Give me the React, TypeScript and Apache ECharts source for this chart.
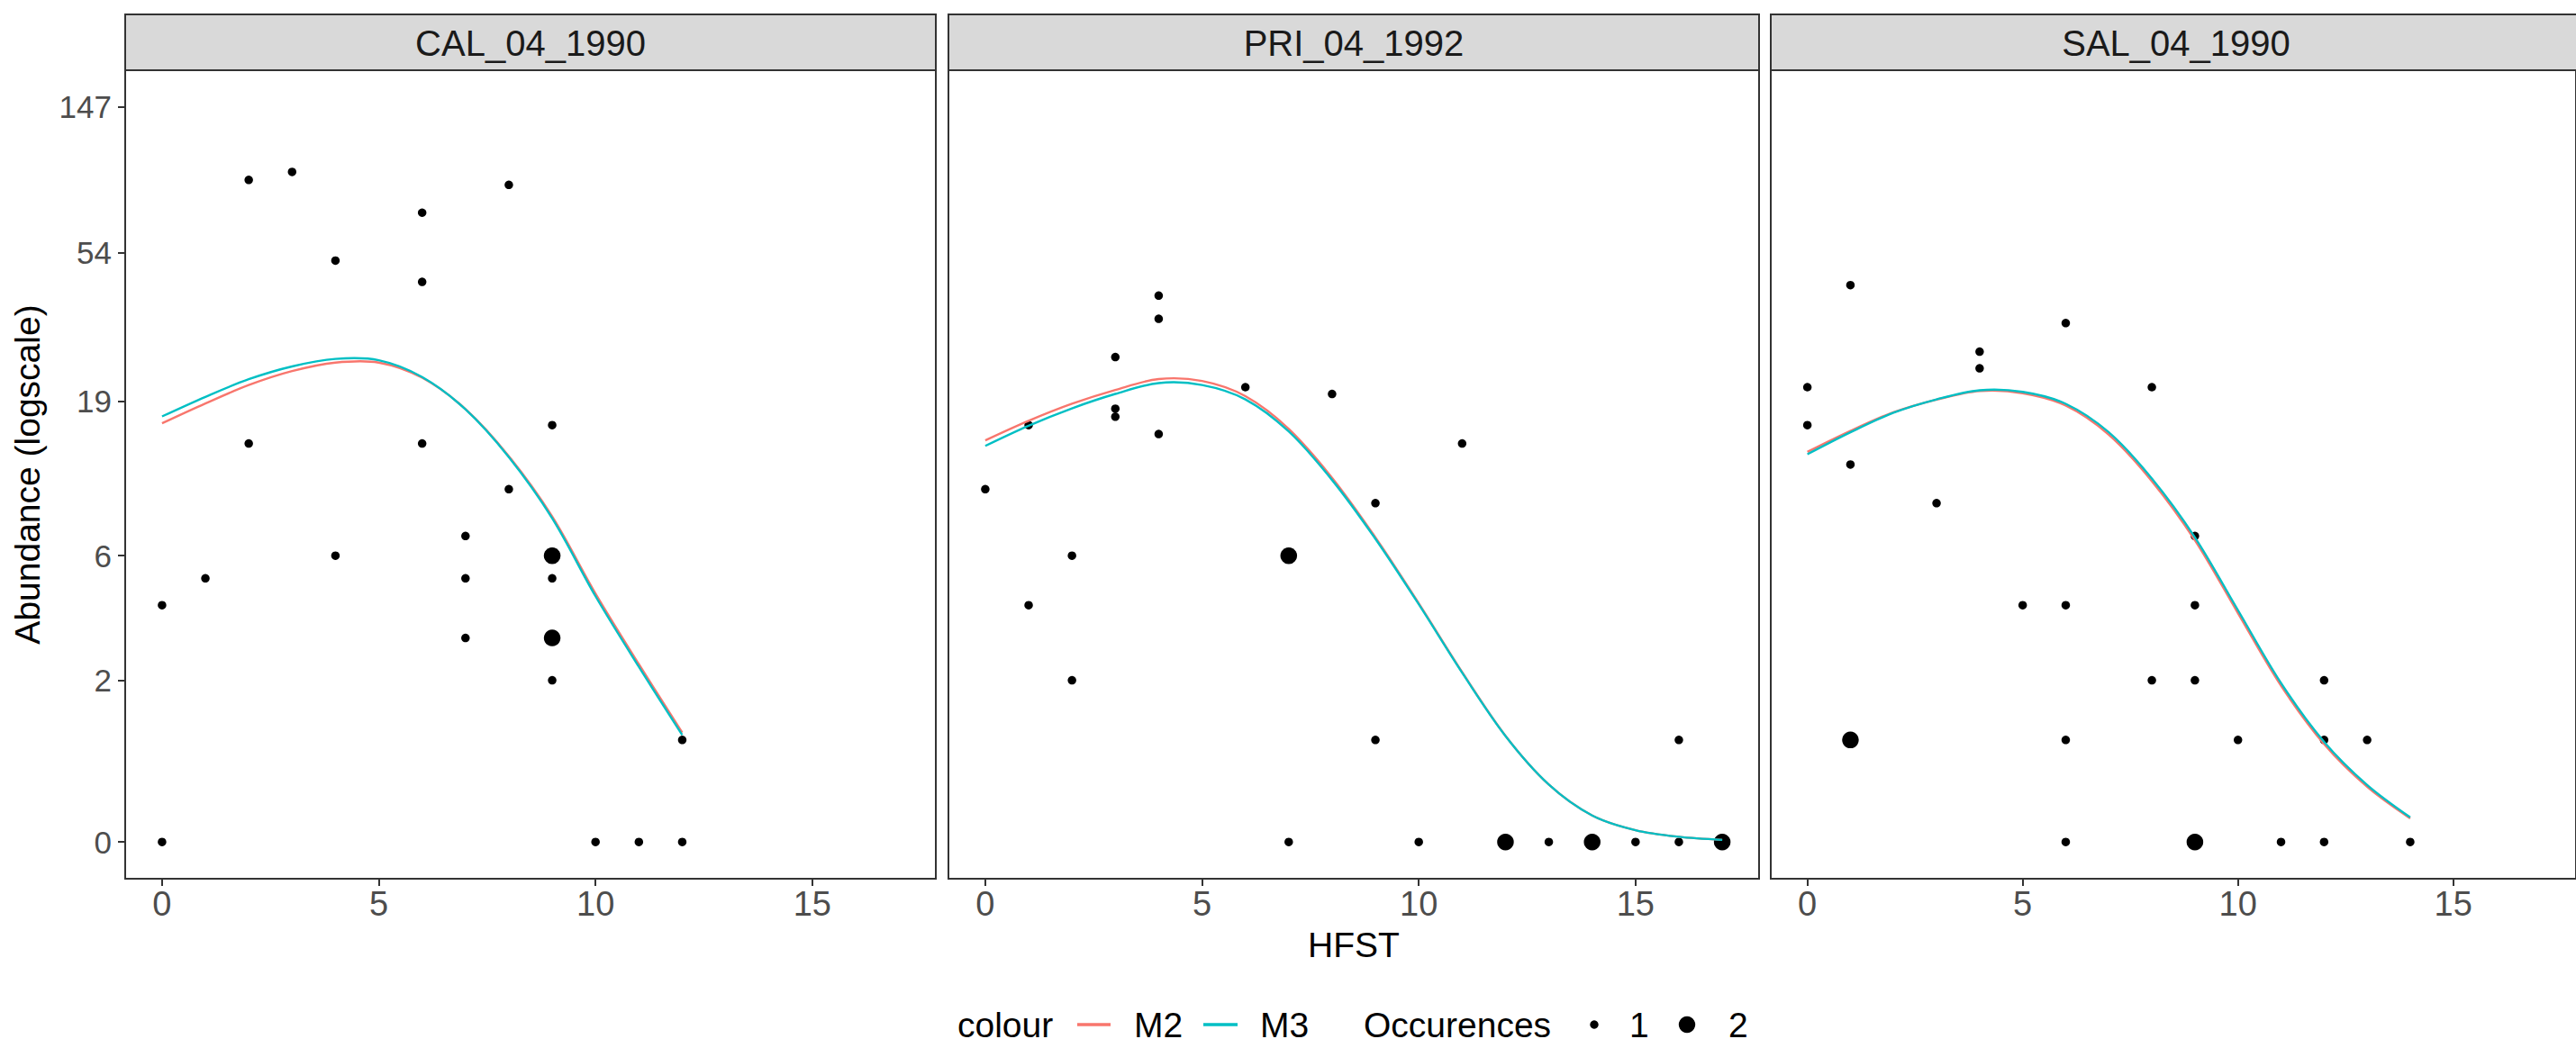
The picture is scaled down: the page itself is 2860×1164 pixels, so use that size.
import React, { useEffect, useRef } from "react";
import * as echarts from "echarts";

// ---------- data ----------
const facets = ["CAL_04_1990", "PRI_04_1992", "SAL_04_1990"];
const yTickValues = [0, 2, 6, 19, 54, 147]; // abundance, plotted on log(1 + y)
const xTickValues = [0, 5, 10, 15];

// observed points: HFST, abundance, occurrences
const calX = [0, 0, 1, 2, 2, 3, 4, 4, 6, 6, 6, 7, 7, 7, 8, 8, 9, 9, 9, 9, 9, 10, 11, 12, 12];
const calAbund = [4, 0, 5, 89, 14, 94, 51, 6, 71, 44, 14, 7, 5, 3, 86, 10, 16, 6, 5, 3, 2, 0, 0, 1, 0];
const calOcc = [1, 1, 1, 1, 1, 1, 1, 1, 1, 1, 1, 1, 1, 1, 1, 1, 1, 2, 1, 2, 1, 1, 1, 1, 1];

const priX = [0, 1, 1, 2, 2, 3, 3, 3, 4, 4, 4, 6, 7, 7, 8, 9, 9, 10, 11, 12, 13, 14, 15, 16, 16, 17];
const priAbund = [10, 16, 4, 6, 2, 26, 18, 17, 40, 34, 15, 21, 6, 0, 20, 9, 1, 0, 14, 0, 0, 0, 0, 1, 0, 0];
const priOcc = [1, 1, 1, 1, 1, 1, 1, 1, 1, 1, 1, 1, 2, 1, 1, 1, 1, 1, 1, 2, 1, 2, 1, 1, 1, 2];

const salX = [0, 0, 1, 1, 1, 3, 4, 4, 5, 6, 6, 6, 6, 8, 8, 9, 9, 9, 9, 10, 11, 12, 12, 12, 13, 14];
const salAbund = [21, 16, 43, 12, 1, 9, 27, 24, 4, 33, 4, 1, 0, 21, 2, 7, 4, 2, 0, 1, 0, 2, 1, 0, 1, 0];
const salOcc = [1, 1, 1, 1, 2, 1, 1, 1, 1, 1, 1, 1, 1, 1, 1, 1, 1, 1, 2, 1, 1, 1, 1, 1, 1, 1];

// fitted curves, on the log(1 + abundance) scale, at each HFST value
const calCurveX = [0, 1, 2, 3, 4, 5, 6, 7, 8, 9, 10, 11, 12];
const calM2 = [2.845, 2.98, 3.105, 3.2, 3.258, 3.258, 3.155, 2.942, 2.622, 2.212, 1.688, 1.208, 0.743];
const calM3 = [2.892, 3.025, 3.145, 3.232, 3.283, 3.274, 3.16, 2.94, 2.615, 2.2, 1.67, 1.19, 0.727];

const priCurveX = [0, 1, 2, 3, 4, 5, 6, 7, 8, 9, 10, 11, 12, 13, 14, 15, 16, 17];
const priM2 = [2.729, 2.862, 2.978, 3.072, 3.146, 3.133, 3.03, 2.808, 2.475, 2.07, 1.622, 1.155, 0.722, 0.39, 0.18, 0.08, 0.035, 0.014];
const priM3 = [2.692, 2.829, 2.947, 3.045, 3.119, 3.106, 3.008, 2.79, 2.46, 2.06, 1.615, 1.15, 0.72, 0.39, 0.18, 0.08, 0.035, 0.014];

const salCurveX = [0, 1, 2, 3, 4, 5, 6, 7, 8, 9, 10, 11, 12, 13, 14];
const salM2 = [2.651, 2.794, 2.92, 3.006, 3.064, 3.05, 2.966, 2.768, 2.452, 2.05, 1.555, 1.062, 0.665, 0.375, 0.16];
const salM3 = [2.635, 2.784, 2.917, 3.008, 3.07, 3.059, 2.978, 2.784, 2.47, 2.07, 1.575, 1.08, 0.68, 0.387, 0.167];

const legendColourTitle = "colour";
const legendModels = ["M2", "M3"];
const legendSizeTitle = "Occurences";
const legendSizes = ["1", "2"];

// ---------- styling / layout ----------
const FONT = "'Liberation Sans', Arial, Helvetica, sans-serif";
const COL_M2 = "#F8766D";
const COL_M3 = "#00BFC4";
const PANEL_LEFTS = [139, 1053, 1966];
const PANEL_W = 900;
const PANEL_TOP = 78;
const PANEL_H = 898;
const STRIP_TOP = 16;
const X_MIN = -0.85;
const X_MAX = 17.85;
const Y_MIN = -0.25;
const Y_MAX = 5.245;

const panels = [
  { x: calX, a: calAbund, o: calOcc, cx: calCurveX, m2: calM2, m3: calM3 },
  { x: priX, a: priAbund, o: priOcc, cx: priCurveX, m2: priM2, m3: priM3 },
  { x: salX, a: salAbund, o: salOcc, cx: salCurveX, m2: salM2, m3: salM3 },
];

function curveSeries(i: number, xs: number[], ys: number[], color: string, name: string, z: number) {
  return {
    type: "custom",
    name,
    xAxisIndex: i,
    yAxisIndex: i,
    data: xs.map((x, k) => [x, ys[k]]),
    encode: { x: 0, y: 1 },
    z,
    renderItem: (params: any, api: any) => {
      if (params.dataIndex !== 0) return null;
      const pts = xs.map((x, k) => api.coord([x, ys[k]]));
      return {
        type: "polyline",
        shape: { points: pts, smooth: 0.33 },
        style: { stroke: color, lineWidth: 2.4, fill: "none" },
        silent: true,
      };
    },
  };
}

function buildOption() {
  const grid = PANEL_LEFTS.map((l) => ({
    left: l,
    top: PANEL_TOP,
    width: PANEL_W,
    height: PANEL_H,
    show: true,
    backgroundColor: "#FFFFFF",
    borderColor: "#333333",
    borderWidth: 2,
  }));
  const xAxis = PANEL_LEFTS.map((_, i) => ({
    type: "value",
    gridIndex: i,
    min: X_MIN,
    max: X_MAX,
    position: "bottom",
    axisLine: { show: false, onZero: false },
    splitLine: { show: false },
    axisTick: {
      show: true,
      length: 8,
      customValues: xTickValues,
      lineStyle: { color: "#333333", width: 2 },
    },
    axisLabel: {
      customValues: xTickValues,
      fontSize: 38,
      color: "#4D4D4D",
      fontFamily: FONT,
      margin: 9,
    },
  }));
  const yTickPos = yTickValues.map((v) => Math.log1p(v));
  const yAxis = PANEL_LEFTS.map((_, i) => ({
    type: "value",
    gridIndex: i,
    min: Y_MIN,
    max: Y_MAX,
    position: "left",
    axisLine: { show: false, onZero: false },
    splitLine: { show: false },
    axisTick: {
      show: i === 0,
      length: 8,
      customValues: yTickPos,
      lineStyle: { color: "#333333", width: 2 },
    },
    axisLabel: {
      show: i === 0,
      customValues: yTickPos,
      formatter: (v: number) => String(Math.round(Math.expm1(v))),
      fontSize: 35,
      color: "#4D4D4D",
      fontFamily: FONT,
      margin: 15,
    },
  }));

  const series: any[] = [];
  panels.forEach((p, i) => {
    series.push({
      type: "scatter",
      xAxisIndex: i,
      yAxisIndex: i,
      data: p.x.map((x, k) => [x, Math.log1p(p.a[k]), p.o[k]]),
      symbol: "circle",
      symbolSize: (val: number[]) => (val[2] >= 2 ? 18.5 : 9.5),
      itemStyle: { color: "#000000", opacity: 1 },
      z: 2,
    });
    series.push(curveSeries(i, p.cx, p.m2, COL_M2, "M2", 3));
    series.push(curveSeries(i, p.cx, p.m3, COL_M3, "M3", 4));
  });

  const graphic: any[] = [];
  PANEL_LEFTS.forEach((l, i) => {
    graphic.push({
      type: "rect",
      shape: { x: l, y: STRIP_TOP, width: PANEL_W, height: PANEL_TOP - STRIP_TOP },
      style: { fill: "#D9D9D9", stroke: "#333333", lineWidth: 2 },
      silent: true,
    });
    graphic.push({
      type: "text",
      x: l + PANEL_W / 2,
      y: (STRIP_TOP + PANEL_TOP) / 2 + 1,
      style: {
        text: facets[i],
        fontSize: 40,
        fontFamily: FONT,
        fill: "#1A1A1A",
        textAlign: "center",
        textVerticalAlign: "middle",
      },
      silent: true,
    });
  });
  // axis titles
  graphic.push({
    type: "text",
    x: 30,
    y: PANEL_TOP + PANEL_H / 2,
    rotation: Math.PI / 2,
    style: {
      text: "Abundance (logscale)",
      fontSize: 39,
      fontFamily: FONT,
      fill: "#000000",
      textAlign: "center",
      textVerticalAlign: "middle",
    },
    silent: true,
  });
  graphic.push({
    type: "text",
    x: PANEL_LEFTS[1] + PANEL_W / 2,
    y: 1049,
    style: {
      text: "HFST",
      fontSize: 39,
      fontFamily: FONT,
      fill: "#000000",
      textAlign: "center",
      textVerticalAlign: "middle",
    },
    silent: true,
  });
  // legend
  const LY = 1138;
  const txt = (x: number, t: string) => ({
    type: "text",
    x,
    y: LY,
    style: { text: t, fontSize: 39, fontFamily: FONT, fill: "#000000", textAlign: "left", textVerticalAlign: "middle" },
    silent: true,
  });
  graphic.push(txt(1063, legendColourTitle));
  graphic.push({ type: "line", shape: { x1: 1196, y1: LY, x2: 1233, y2: LY }, style: { stroke: COL_M2, lineWidth: 3.5 }, silent: true });
  graphic.push(txt(1259, legendModels[0]));
  graphic.push({ type: "line", shape: { x1: 1336, y1: LY, x2: 1374, y2: LY }, style: { stroke: COL_M3, lineWidth: 3.5 }, silent: true });
  graphic.push(txt(1399, legendModels[1]));
  graphic.push(txt(1514, legendSizeTitle));
  graphic.push({ type: "circle", shape: { cx: 1770, cy: LY, r: 4.7 }, style: { fill: "#000000" }, silent: true });
  graphic.push(txt(1809, legendSizes[0]));
  graphic.push({ type: "circle", shape: { cx: 1873, cy: LY, r: 9.2 }, style: { fill: "#000000" }, silent: true });
  graphic.push(txt(1919, legendSizes[1]));

  return {
    animation: false,
    backgroundColor: "#FFFFFF",
    textStyle: { fontFamily: FONT },
    grid,
    xAxis,
    yAxis,
    series,
    graphic,
  };
}

export default function App() {
  const ref = useRef<HTMLDivElement>(null);
  useEffect(() => {
    document.body.style.margin = "0";
    document.body.style.overflow = "hidden";
    if (!ref.current) return;
    const chart = echarts.init(ref.current, undefined, { renderer: "svg" });
    chart.setOption(buildOption() as any);
    return () => chart.dispose();
  }, []);
  return <div ref={ref} style={{ width: 2860, height: 1164 }} />;
}
